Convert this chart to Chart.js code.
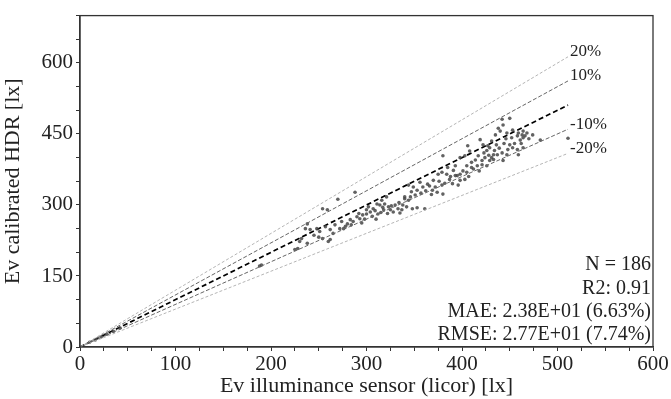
<!DOCTYPE html>
<html>
<head>
<meta charset="utf-8">
<script src="https://cdn.jsdelivr.net/npm/chart.js@4/dist/chart.umd.min.js"></script>
<style>
html,body{margin:0;padding:0;background:#fff;}
#wrap{width:671px;height:399px;}
</style>
</head>
<body>
<div id="wrap"><canvas id="c" width="671" height="399"></canvas></div>
<script>
// Scatter data (sensor lx vs calibrated HDR lx)
const sensorX = [10,16,22,28,35,42,188,190,225,228,230,232,236,238,238,241,248,251,254,254,257,259,260,262,262,267,270,272,274,276,280,283,286,288,290,293,296,300,302,304,307,311,312,314,316,318,319,321,323,325,328,333,337,340,340,342,344,344,346,348,349,351,353,353,356,359,361,364,369,370,372,374,375,379,379,380,380,384,385,387,391,393,393,395,396,398,398,398,403,403,405,405,406,408,410,410,416,417,419,421,421,422,424,426,426,427,429,429,431,431,433,433,435,436,437,438,440,442,442,443,443,447,447,448,450,450,452,453,453,458,458,459,459,461,463,464,464,464,468,482,511,295,298,306,309,315,317,322,326,330,335,338,300,245,250,265,278,284,292,310,362,366,368,376,382,388,390,401,407,412,414,418,423,428,434,439,444,446,455,462,466,470,474,357,347,334];
const hdrY = [10,15,21,27,33,40,171,173,206,208,223,229,250,219,260,248,250,244,229,292,254,290,223,227,248,258,312,250,265,250,260,269,265,327,275,271,279,281,296,285,292,302,281,300,310,290,302,317,296,290,285,292,290,317,313,296,342,310,317,292,338,321,331,294,348,338,292,344,331,352,338,327,365,369,342,404,323,365,379,354,373,383,362,362,342,352,400,365,404,354,383,369,425,414,390,379,383,404,438,394,385,427,400,415,383,425,421,394,435,400,406,396,448,427,406,462,456,481,410,469,394,452,406,417,483,427,442,458,421,446,417,452,406,437,448,456,442,421,452,437,441,262,270,276,288,284,295,282,298,300,283,300,290,236,232,240,255,258,282,270,330,340,322,350,346,360,345,372,360,376,395,372,410,405,415,420,430,440,430,430,446,440,448,325,328,305];

// Reference lines (end points)
const refX = [0, 511];
const line1to1 = [0, 511];
const linePlus10 = [0, 562];
const lineMinus10 = [0, 460];
const linePlus20 = [0, 613];
const lineMinus20 = [0, 409];
const refLabels = ['20%', '10%', '-10%', '-20%'];

// Axis ticks
const xTickLabels = [0, 100, 200, 300, 400, 500, 600];
const yTickLabels = [0, 150, 300, 450, 600];

// Statistics text
const statsLines = ['N = 186', 'R2: 0.91', 'MAE: 2.38E+01 (6.63%)', 'RMSE: 2.77E+01 (7.74%)'];

const pts = sensorX.map((x, i) => ({x: x, y: hdrY[i]}));
const mk = arr => refX.map((x, i) => ({x: x, y: arr[i]}));

const FONT = "'Liberation Serif', 'Times New Roman', serif";
const AX = '#333';

const overlay = {
  id: 'overlay',
  afterDraw(chart) {
    const ctx = chart.ctx, ca = chart.chartArea;
    const xs = chart.scales.x, ys = chart.scales.y;
    ctx.save();
    // frame
    ctx.strokeStyle = AX; ctx.lineWidth = 1.3;
    ctx.strokeRect(ca.left, ca.top, ca.right - ca.left, ca.bottom - ca.top);
    // ref labels
    ctx.fillStyle = '#222';
    ctx.font = '17px ' + FONT;
    ctx.textAlign = 'left'; ctx.textBaseline = 'middle';
    const ends = [linePlus20, linePlus10, lineMinus10, lineMinus20];
    ends.forEach((arr, i) => {
      const px = xs.getPixelForValue(refX[1]);
      const py = ys.getPixelForValue(arr[1]);
      ctx.fillText(refLabels[i], px + 2, py - 5);
    });
    // stats
    ctx.font = '20px ' + FONT;
    ctx.textAlign = 'right';
    const baseY = ca.bottom - 12;
    for (let i = 0; i < statsLines.length; i++) {
      const k = statsLines.length - 1 - i;
      ctx.fillText(statsLines[k], ca.right - 2, baseY - i * 23.3);
    }
    ctx.restore();
  }
};

new Chart(document.getElementById('c'), {
  type: 'scatter',
  data: {
    datasets: [
      {type: 'line', data: mk(linePlus20), borderColor: '#b5b5b5', borderWidth: 1, borderDash: [3, 2], pointRadius: 0, fill: false},
      {type: 'line', data: mk(lineMinus20), borderColor: '#b5b5b5', borderWidth: 1, borderDash: [3, 2], pointRadius: 0, fill: false},
      {type: 'line', data: mk(linePlus10), borderColor: '#666', borderWidth: 1, borderDash: [4, 2], pointRadius: 0, fill: false},
      {type: 'line', data: mk(lineMinus10), borderColor: '#666', borderWidth: 1, borderDash: [4, 2], pointRadius: 0, fill: false},
      {data: pts, backgroundColor: 'rgba(70,70,70,0.85)', borderWidth: 0, pointRadius: 1.8},
      {type: 'line', data: mk(line1to1), borderColor: '#000', borderWidth: 1.7, borderDash: [5, 3], pointRadius: 0, fill: false}
    ]
  },
  options: {
    responsive: false,
    animation: false,
    layout: {padding: {top: 12, right: 18, left: 0, bottom: 0}},
    plugins: {legend: {display: false}, tooltip: {enabled: false}},
    scales: {
      x: {
        type: 'linear', min: 0, max: 600,
        afterFit(s) { s.height = 52; },
        border: {color: AX, width: 1.3},
        grid: {drawOnChartArea: false, drawTicks: true, tickLength: 4, color: AX},
        ticks: {
          stepSize: 25, autoSkip: false, maxRotation: 0, padding: 1,
          color: '#222', font: {family: FONT, size: 21},
          callback: v => xTickLabels.includes(v) ? String(v) : ''
        },
        title: {display: true, text: 'Ev illuminance sensor (licor) [lx]', color: '#222', font: {family: FONT, size: 22}, padding: {top: -5, bottom: 0}}
      },
      y: {
        type: 'linear', min: 0, max: 700,
        afterFit(s) { s.width = 80; },
        border: {color: AX, width: 1.3},
        grid: {drawOnChartArea: false, drawTicks: true, tickLength: 4, color: AX},
        ticks: {
          stepSize: 50, autoSkip: false, padding: 3,
          color: '#222', font: {family: FONT, size: 21},
          callback: v => yTickLabels.includes(v) ? String(v) : ''
        },
        title: {display: true, text: 'Ev calibrated HDR [lx]', color: '#222', font: {family: FONT, size: 22}, padding: {top: 0, bottom: 1}}
      }
    }
  },
  plugins: [overlay]
});
</script>
</body>
</html>
